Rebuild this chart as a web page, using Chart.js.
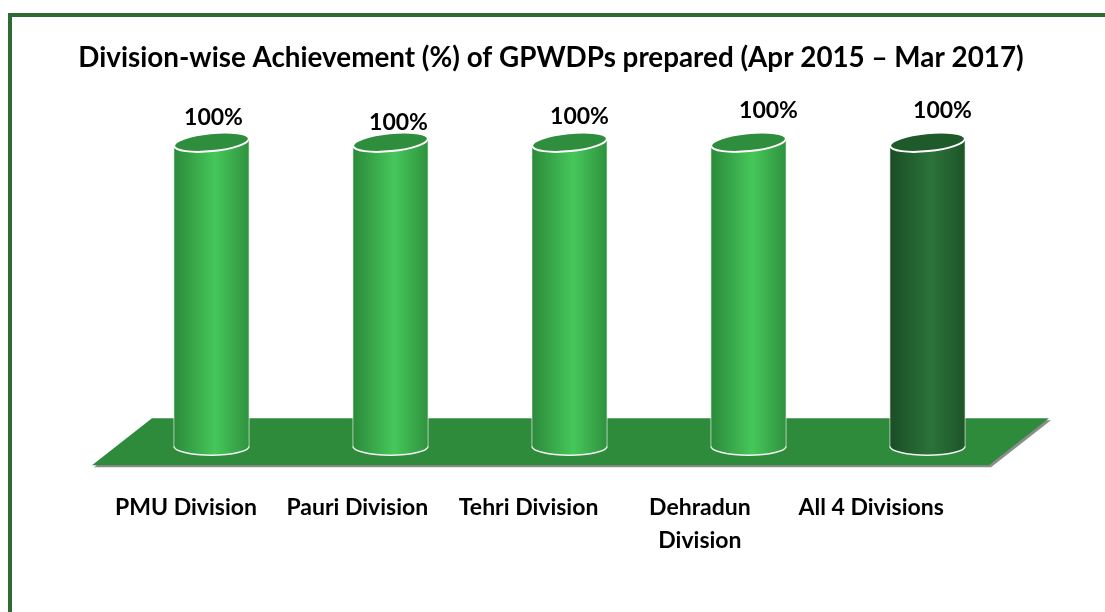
<!DOCTYPE html>
<html>
<head>
<meta charset="utf-8">
<script src="https://cdn.jsdelivr.net/npm/chart.js@4"></script>
<style>
  html, body { margin: 0; padding: 0; background: #fff; overflow: hidden; }
  #frame { position: absolute; left: 8px; top: 13px; width: 1200px; height: 700px; border: 4px solid #2e6b32; box-sizing: border-box; }
  #achv { position: absolute; left: 0; top: 0; }
</style>
</head>
<body>
<div id="frame"></div>
<canvas id="achv" width="1105" height="612"></canvas>
<script>
var chartTitle = "Division-wise Achievement (%) of GPWDPs prepared (Apr 2015 \u2013 Mar 2017)";
var divisions = [["PMU Division"], ["Pauri Division"], ["Tehri Division"], ["Dehradun", "Division"], ["All 4 Divisions"]];
var achievement = [100, 100, 100, 100, 100];
var valueLabels = ["100%", "100%", "100%", "100%", "100%"];

var FONT = "Lato, 'Open Sans', sans-serif";
// colours of the cylinders (last one is the total)
var lightSet = { edge: "#2b8a3a", mid: "#46c75a", edge2: "#2f923f", top: "#2f8e3e" };
var darkSet = { edge: "#1b4d26", mid: "#2b7239", edge2: "#1e5529", top: "#1f5a2b" };
// little nudges of the value labels, as placed in the original
var labelNudge = [[2, -25], [8, -20], [10, -26], [20, -32], [15, -32]];
var LBL_MIN = -0.3736, LBL_MAX = 4.851;

var titlePlugin = {
  id: "pageTitle",
  afterDraw: function(chart) {
    var c = chart.ctx;
    c.save();
    c.font = "bold 28px " + FONT;
    var size = 28 * 944 / c.measureText(chartTitle).width;
    c.font = "bold " + size.toFixed(1) + "px " + FONT;
    c.fillStyle = "#000";
    c.textAlign = "center";
    c.textBaseline = "middle";
    c.fillText(chartTitle, 551, 58);
    c.restore();
  }
};

var floorPlugin = {
  id: "floor",
  beforeDatasetsDraw: function(chart) {
    var c = chart.ctx, a = chart.chartArea;
    var fy = a.bottom + 19, by = a.bottom - 28;
    var pts = [[a.left - 30, fy], [a.left + 30, by], [a.right + 32, by], [a.right - 28, fy]];
    c.save();
    // grey shadow edge
    c.fillStyle = "#8c8c8c";
    c.beginPath();
    pts.forEach(function(p, i) { if (i) c.lineTo(p[0] + 2, p[1] + 2); else c.moveTo(p[0] + 2, p[1] + 2); });
    c.closePath();
    c.fill();
    c.fillStyle = "#2e8b3c";
    c.beginPath();
    pts.forEach(function(p, i) { if (i) c.lineTo(p[0], p[1]); else c.moveTo(p[0], p[1]); });
    c.closePath();
    c.fill();
    c.restore();
  }
};

var cylinderPlugin = {
  id: "cylinders",
  afterDatasetsDraw: function(chart) {
    var c = chart.ctx;
    var meta = chart.getDatasetMeta(0);
    meta.data.forEach(function(bar, i) {
      var col = i === meta.data.length - 1 ? darkSet : lightSet;
      var w = bar.width, x0 = bar.x - w / 2, x1 = bar.x + w / 2;
      var top = bar.y, base = bar.base, ry = 9, tilt = -0.1;
      var dy = Math.sin(tilt) * w / 2;
      c.save();
      var g = c.createLinearGradient(x0, 0, x1, 0);
      g.addColorStop(0, col.edge);
      g.addColorStop(0.55, col.mid);
      g.addColorStop(1, col.edge2);
      c.fillStyle = g;
      c.beginPath();
      c.moveTo(x0, top - dy);
      c.lineTo(x0, base);
      c.ellipse(bar.x, base, w / 2, ry, 0, Math.PI, 0, true);
      c.lineTo(x1, top + dy);
      c.closePath();
      c.fill();
      // bottom rim
      c.strokeStyle = "#f4f4f4";
      c.lineWidth = 1.5;
      c.beginPath();
      c.ellipse(bar.x, base, w / 2, ry, 0, Math.PI, 0, true);
      c.stroke();
      // side edges
      c.strokeStyle = "rgba(255,255,255,0.6)";
      c.lineWidth = 1;
      c.beginPath();
      c.moveTo(x0, top - dy); c.lineTo(x0, base);
      c.moveTo(x1, top + dy); c.lineTo(x1, base);
      c.stroke();
      // top face
      c.fillStyle = col.top;
      c.strokeStyle = "#ffffff";
      c.lineWidth = 2;
      c.beginPath();
      c.ellipse(bar.x, top, w / 2, ry, tilt, 0, Math.PI * 2);
      c.fill();
      c.stroke();
      // value label
      c.fillStyle = "#000";
      c.font = "bold 23px " + FONT;
      c.textAlign = "center";
      c.textBaseline = "middle";
      c.fillText(valueLabels[i], bar.x + labelNudge[i][0], top + labelNudge[i][1]);
      c.restore();
    });
  }
};

new Chart(document.getElementById("achv"), {
  type: "bar",
  data: {
    labels: divisions,
    datasets: [{
      data: achievement,
      backgroundColor: "rgba(0,0,0,0)",
      borderWidth: 0,
      barPercentage: 0.84,
      categoryPercentage: 0.5
    }]
  },
  options: {
    responsive: false,
    animation: false,
    events: [],
    layout: { padding: { left: 122, right: 88, top: 100, bottom: 10 } },
    plugins: {
      legend: { display: false },
      tooltip: { enabled: false },
      title: { display: false }
    },
    scales: {
      x: { display: false },
      // category names sit along the front edge of the floor
      xl: {
        type: "linear",
        position: "bottom",
        offset: false,
        bounds: "data",
        min: LBL_MIN,
        max: LBL_MAX,
        grid: { display: false, drawTicks: false },
        border: { display: false },
        afterBuildTicks: function(axis) {
          axis.ticks = divisions.map(function(d, i) { return { value: i }; });
        },
        ticks: {
          color: "#000",
          padding: 45,
          maxRotation: 0,
          autoSkip: false,
          callback: function(v) { return divisions[v]; },
          font: { family: FONT, size: 23, weight: "bold", lineHeight: 1.43 }
        }
      },
      y: {
        display: false,
        min: 0,
        max: 113.86
      }
    }
  },
  plugins: [floorPlugin, cylinderPlugin, titlePlugin]
});
</script>
</body>
</html>
